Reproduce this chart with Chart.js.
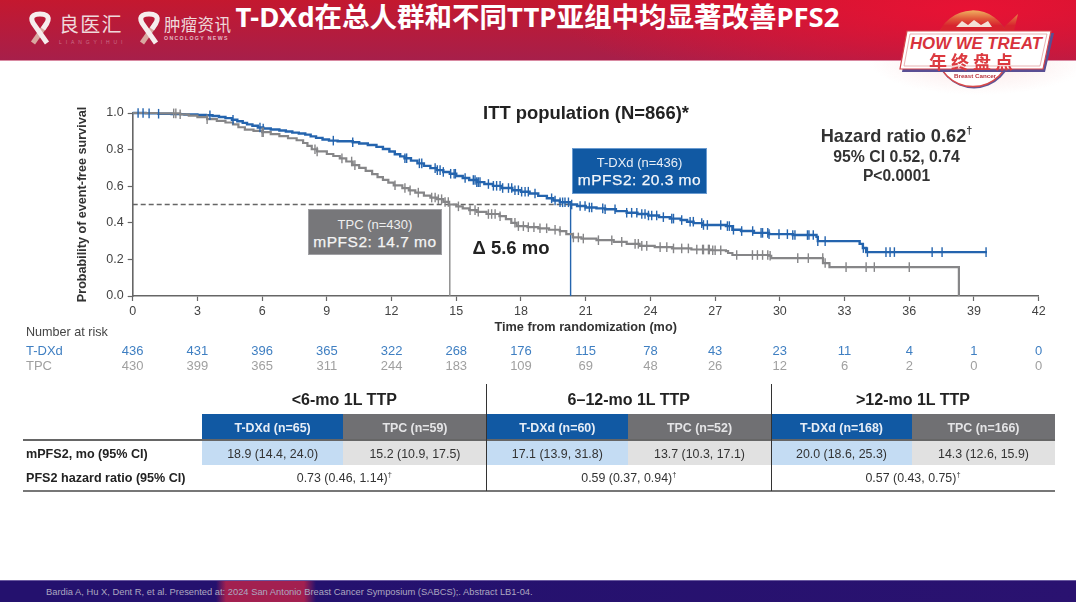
<!DOCTYPE html>
<html><head><meta charset="utf-8">
<script src="https://cdn.jsdelivr.net/npm/chart.js@4"></script>
<style>
html,body{margin:0;padding:0;background:#fff;overflow:hidden}
#page{position:relative;width:1076px;height:605px;font-family:"Liberation Sans",Arial,sans-serif;color:#222;filter:blur(.55px);overflow:hidden}
#page>div,.t{position:absolute;white-space:nowrap}
.c{transform:translate(-50%,-50%);text-align:center}
.l{transform:translateY(-50%)}
canvas{position:absolute;left:0;top:0}
sup{font-size:.6em;line-height:0}
</style></head><body>
<div id="page">
<div style="left:0;top:0;width:1076px;height:60px;background:radial-gradient(ellipse 420px 90px at 90% 15%,rgba(232,18,52,1),rgba(232,18,52,0) 100%),linear-gradient(180deg,#c4182f 0%,#a71f4a 100%);border-bottom:1px solid #d98aa2"></div>
<div style="left:860px;top:61px;width:216px;height:36px;background:radial-gradient(ellipse 110px 34px at 55% 0,#fbe6e6,rgba(255,255,255,0) 100%)"></div>
<svg style="position:absolute;left:0;top:0" width="240" height="60">
<g id="rb" fill="none" stroke-linecap="butt">
<path d="M33 43 L47 23" stroke="#d9a7a0" stroke-width="5"/>
<path d="M47 43 L33 23 C29 15 36 14 40 14 C44 14 51 15 47 23 L43 29" stroke="#f6eded" stroke-width="5"/>
</g>
<use href="#rb" x="109" y="0"/>
</svg>
<div class="l" style="left:59px;top:23px;font:400 20px 'Noto Sans CJK SC';letter-spacing:1.2px;color:#efd8da">良医汇</div>
<div class="l" style="left:59px;top:42px;font:400 5px 'Liberation Sans';letter-spacing:3.9px;color:#c9708a">LIANGYIHUI</div>
<div class="l" style="left:164px;top:24px;font:400 16.5px 'Noto Sans CJK SC';letter-spacing:.3px;color:#efd8da">肿瘤资讯</div>
<div class="l" style="left:164px;top:38px;font:700 5.2px 'Liberation Sans';letter-spacing:1.35px;color:#e5b8c4">ONCOLOGY NEWS</div>
<div id="title" class="c" style="left:537.5px;top:17px;font:700 27.5px 'Noto Sans','Noto Sans CJK SC';line-height:30px;color:#fff">T-DXd在总人群和不同TTP亚组中均显著改善PFS2</div>

<svg style="position:absolute;left:890px;top:0" width="186" height="100">
<defs><linearGradient id="dm" x1="0" y1="0" x2="0" y2="1"><stop offset="0" stop-color="#f0b060"/><stop offset=".3" stop-color="#e05a3a"/><stop offset=".55" stop-color="#d8232f"/></linearGradient></defs>
<circle cx="84" cy="50.5" r="38" fill="#5f5596"/>
<circle cx="83" cy="49.5" r="37" fill="#fff" stroke="#d94a4a" stroke-width="1.5"/>
<path d="M47 38 A37 37 0 0 1 118 36 L114 27 L128 14 L124 31 L124 36 Z" fill="url(#dm)"/>
<path d="M66 27 L72 21 L78 25 L84 20 L91 25 L98 21 L102 27 Z" fill="#f4e2d8"/>
<path d="M17 31 L162 31 L153 70 L10 70 Z" fill="#5a4f94" transform="translate(2 2)"/>
<path d="M17 31 L161 31 L153 69 L10 69 Z" fill="#fff" stroke="#d6454a" stroke-width="1.2"/>
<path d="M20 34 L157 34 L150 66 L14 66 Z" fill="none" stroke="#e3a0a0" stroke-width=".8"/>
</svg>
<div class="c" style="left:976px;top:43.5px;font:italic 700 16.8px 'Liberation Sans';color:#d8323c">HOW WE TREAT</div>
<div class="c" style="left:973px;top:61px;font:700 18px 'Noto Sans CJK SC';line-height:20px;color:#dc3a40;letter-spacing:4px">年终盘点</div>
<div class="c" style="left:975px;top:74.5px;font:700 6.2px 'Liberation Sans';color:#b8323c">Breast Cancer</div>

<canvas id="km" width="1076" height="605" style="width:1076px;height:605px"></canvas>

<div class="c" style="left:586px;top:113px;font:700 18.4px 'Liberation Sans';color:#222">ITT population (N=866)*</div>
<div class="c" style="left:896.5px;top:135.5px;font:700 18.2px 'Liberation Sans';color:#333">Hazard ratio 0.62<sup>†</sup></div>
<div class="c" style="left:896.5px;top:156.5px;font:700 15.8px 'Liberation Sans';color:#333">95% CI 0.52, 0.74</div>
<div class="c" style="left:896.5px;top:175.5px;font:700 15.6px 'Liberation Sans';color:#333">P&lt;0.0001</div>

<div style="left:308px;top:209px;width:134px;height:46px;background:#77777a;box-sizing:border-box;border:1px solid #a0a0a4"></div>
<div class="c" style="left:375px;top:224px;font:400 13px 'Liberation Sans';color:#eee">TPC (n=430)</div>
<div class="c" style="left:375px;top:241.5px;font:400 15.5px 'Liberation Sans';color:#f4f4f4;letter-spacing:.5px;-webkit-text-stroke:.25px #f4f4f4">mPFS2: 14.7 mo</div>
<div style="left:572px;top:148px;width:135px;height:46px;background:#1159a3;box-sizing:border-box;border:1px solid #6a9bd0"></div>
<div class="c" style="left:639.5px;top:162px;font:400 13px 'Liberation Sans';color:#e8eef6">T-DXd (n=436)</div>
<div class="c" style="left:639.5px;top:180px;font:400 15.5px 'Liberation Sans';color:#f4f7fb;letter-spacing:.5px;-webkit-text-stroke:.25px #f4f7fb">mPFS2: 20.3 mo</div>
<div class="c" style="left:511px;top:248px;font:700 18.5px 'Liberation Sans';color:#222">Δ 5.6 mo</div>

<div class="l" style="left:26px;top:331.5px;font:400 12.6px 'Liberation Sans';color:#444">Number at risk</div>
<div class="l" style="left:26px;top:349.5px;font:400 13px 'Liberation Sans';color:#3f7fc2">T-DXd</div>
<div class="l" style="left:26px;top:364.5px;font:400 13px 'Liberation Sans';color:#a0a0a0">TPC</div>
<div id="risk"></div>
<div id="tbl"></div>

<div style="left:0;top:580px;width:1076px;height:22px;background:linear-gradient(90deg,#24116e 0,#24116e 216px,#a32050 226px,#a32050 304px,#24116e 316px,#2a1270 100%);border-top:1px solid #6a5aa0;box-sizing:border-box"></div>
<div class="l" style="left:46px;top:592px;font:400 9.35px 'Liberation Sans';color:#aca7c0">Bardia A, Hu X, Dent R, et al. Presented at: 2024 San Antonio Breast Cancer Symposium (SABCS);. Abstract LB1-04.</div>
</div>
<script>
const xTicks=[0,3,6,9,12,15,18,21,24,27,30,33,36,39,42];
const riskTDXd=[436,431,396,365,322,268,176,115,78,43,23,11,4,1,0];
const riskTPC=[430,399,365,311,244,183,109,69,48,26,12,6,2,0,0];
const medianTDXd=20.3, medianTPC=14.7;

const tdxdTime=[0,.6,1.2,1.8,2.4,3,3.4,3.7,4,4.3,4.6,4.85,5.1,5.3,5.55,5.8,6.05,6.4,6.8,7.1,7.4,7.7,8,8.25,8.5,8.8,9.1,9.5,10.2,10.5,10.9,11.3,11.6,11.9,12.15,12.4,12.6,12.9,13.2,13.5,13.8,14.1,14.4,14.7,15,15.3,15.6,15.95,16.3,16.7,17.1,17.6,18,18.4,18.8,19.2,19.5,19.8,20.3,20.6,21,21.5,21.9,22.4,22.9,23.4,23.9,24.4,24.9,25.4,25.7,26,26.4,27.5,27.8,28.2,28.8,29.5,30.6,31.7,31.76,33.7,33.85,34,39.6];
const tdxdSurv=[1,.998,.996,.994,.992,.99,.988,.984,.978,.972,.963,.955,.946,.938,.93,.921,.915,.91,.904,.899,.893,.888,.882,.872,.864,.855,.849,.846,.84,.833,.825,.815,.803,.79,.775,.763,.753,.74,.725,.711,.699,.688,.678,.668,.656,.645,.634,.622,.612,.602,.59,.578,.57,.56,.547,.534,.522,.512,.5,.492,.484,.479,.474,.464,.455,.448,.44,.431,.423,.415,.406,.398,.388,.382,.362,.355,.345,.338,.333,.323,.30,.285,.262,.24,.24];
const tpcTime=[0,1.2,2.2,2.6,3,3.45,3.9,4.3,4.65,4.9,5.2,5.6,6,6.4,6.8,7.2,7.6,7.9,8.1,8.3,8.55,9,9.3,9.6,9.9,10.2,10.5,10.8,11.1,11.35,11.6,11.85,12.1,12.5,12.8,13.1,13.5,13.8,14.1,14.4,14.67,15,15.3,15.6,15.95,16.4,17,17.3,17.55,17.8,18.3,18.8,19.3,19.8,20.1,20.4,20.8,21.5,22.3,22.9,23.5,24.2,25,25.9,26.8,27.5,27.6,27.8,29.5,29.6,32,32.3,38.3];
const tpcSurv=[1,.998,.993,.986,.977,.966,.957,.948,.938,.922,.909,.902,.895,.885,.874,.862,.851,.836,.82,.802,.79,.776,.765,.752,.735,.715,.7,.684,.666,.65,.635,.62,.605,.59,.577,.565,.549,.538,.529,.514,.5,.49,.479,.469,.46,.448,.436,.42,.4,.382,.376,.37,.362,.355,.338,.32,.314,.305,.296,.285,.274,.267,.26,.254,.25,.245,.235,.224,.22,.207,.18,.158,0];

const tdxdCensor=[0.25,0.48,0.76,1.2,3.58,4.65,5.9,6.05,9.3,10.2,12.62,12.7,13.29,13.4,14.02,14.12,14.25,14.4,14.74,14.9,14.96,15.41,15.79,15.87,15.95,16.02,16.1,16.49,16.72,16.87,17.03,17.15,17.42,17.57,17.72,17.88,18.03,18.19,18.34,18.65,19.42,19.58,19.81,19.93,20.04,20.2,20.35,20.74,20.97,21.17,21.28,21.79,21.9,22.36,22.9,23.13,23.37,23.6,23.75,23.91,24.06,24.29,24.6,24.99,25.07,25.45,25.84,25.99,26.38,26.46,26.64,27.26,27.57,27.66,27.85,28.23,28.74,29.13,29.2,29.44,29.5,29.96,30.35,30.6,30.7,31.28,31.35,31.55,31.76,32.1,33.87,34.06,34.92,35.11,35.31,37.06,37.52,39.56];
const tpcCensor=[1.9,2.0,2.2,3.45,6,6.05,8.45,8.55,9.7,10.15,10.3,12.16,12.62,12.86,13.24,13.86,14.02,14.17,14.32,14.48,14.63,15.1,15.64,15.87,16.02,16.49,16.64,16.8,17.03,17.72,17.88,18.11,18.34,18.6,18.88,19.19,19.58,19.81,20.43,20.66,20.89,21.59,22.21,22.67,23.29,23.44,23.6,23.83,24.45,24.76,25.07,25.45,25.76,26.15,26.42,26.46,26.69,26.73,26.89,27,27.26,28,28.73,28.96,29.2,29.44,29.55,30.83,31.32,31.99,32.1,33.07,34,34.38,36];

const groups=["<6-mo 1L TTP","6–12-mo 1L TTP",">12-mo 1L TTP"];
const armHeads=[["T-DXd (n=65)","TPC (n=59)"],["T-DXd (n=60)","TPC (n=52)"],["T-DXd (n=168)","TPC (n=166)"]];
const mPFS2=[["18.9 (14.4, 24.0)","15.2 (10.9, 17.5)"],["17.1 (13.9, 31.8)","13.7 (10.3, 17.1)"],["20.0 (18.6, 25.3)","14.3 (12.6, 15.9)"]];
const hrs=["0.73 (0.46, 1.14)","0.59 (0.37, 0.94)","0.57 (0.43, 0.75)"];

const BLUE="#2464ae",GRAY="#868688";
const curve=(t,s)=>t.map((x,i)=>({x,y:s[i]}));
const stepAt=(t,s,x)=>{let v=s[0];t.forEach((q,i)=>{if(q<=x)v=s[i]});return v};
const censor=(c,t,s)=>c.map(x=>({x,y:stepAt(t,s,x)}));
const tickDs=(data,color)=>({data,showLine:false,pointStyle:'line',rotation:90,pointRadius:4.8,pointHoverRadius:4.8,pointBorderColor:color,pointBorderWidth:1.4,borderColor:color,clip:false,order:1});
const lineDs=(data,color,w)=>({data,showLine:true,stepped:true,borderColor:color,borderWidth:w,pointRadius:0,clip:false,order:2});
const refDs=(data,color,extra)=>Object.assign({data,showLine:true,borderColor:color,borderWidth:1.4,pointRadius:0,clip:false,order:3},extra);

const chart=new Chart(document.getElementById('km'),{
 type:'scatter',
 data:{datasets:[
  refDs([{x:0,y:.5},{x:medianTDXd,y:.5}],'#666',{borderDash:[5,3],borderWidth:1.5}),
  refDs([{x:medianTPC,y:.5},{x:medianTPC,y:0}],'#8a8a8a'),
  refDs([{x:medianTDXd,y:.5},{x:medianTDXd,y:0}],'#2464ae'),
  lineDs(curve(tpcTime,tpcSurv),GRAY,2.2),
  lineDs(curve(tdxdTime,tdxdSurv),BLUE,2.4),
  tickDs(censor(tpcCensor,tpcTime,tpcSurv),GRAY),
  tickDs(censor(tdxdCensor,tdxdTime,tdxdSurv),BLUE)
 ]},
 options:{
  responsive:false,animation:false,
  layout:{padding:{left:75,right:37.3,top:113,bottom:270}},
  plugins:{legend:{display:false},tooltip:{enabled:false}},
  scales:{
   x:{type:'linear',min:0,max:42,
    afterBuildTicks:s=>{s.ticks=xTicks.map(value=>({value}))},
    afterFit:s=>{s.height=39},
    border:{color:'#666',width:1.6},
    grid:{drawOnChartArea:false,drawTicks:true,tickLength:5,color:'#666',tickWidth:1.2},
    ticks:{padding:3.5,maxRotation:0,autoSkip:false,color:'#444',font:{family:'Liberation Sans',size:12.5}},
    title:{display:true,text:'Time from randomization (mo)',color:'#333',padding:0,font:{family:'Liberation Sans',size:12.7,weight:'bold'}}},
   y:{min:0,max:1,
    afterFit:s=>{s.width=57.7},
    border:{color:'#666',width:1.6},
    grid:{drawOnChartArea:false,drawTicks:true,tickLength:5,color:'#666',tickWidth:1.2},
    ticks:{stepSize:.2,padding:4,color:'#444',font:{family:'Liberation Sans',size:12.5},callback:v=>v.toFixed(1)},
    title:{display:true,text:'Probability of event-free survival',color:'#333',padding:0,font:{family:'Liberation Sans',size:12.6,weight:'bold'}}}
  }
 }
});

const add=(p,css,txt,cls)=>{const d=document.createElement('div');d.className='t '+(cls||'');d.style.cssText=css;if(txt!==undefined)d.innerHTML=txt;p.appendChild(d);return d};
const esc=s=>s.replace(/</g,'&lt;').replace(/>/g,'&gt;');
const rk=document.getElementById('risk');
xTicks.forEach((v,i)=>{
 const x=chart.scales.x.getPixelForValue(v);
 add(rk,`left:${x}px;top:349.5px;font:400 13px 'Liberation Sans';color:#3f7fc2`,riskTDXd[i],'c');
 add(rk,`left:${x}px;top:364.5px;font:400 13px 'Liberation Sans';color:#a0a0a0`,riskTPC[i],'c');
});

const T=document.getElementById('tbl');
const cols=[[202,343.3,486.6],[486.6,628,771],[771,912,1055]];
cols.forEach((c,g)=>{
 add(T,`left:${c[0]}px;top:414px;width:${c[1]-c[0]}px;height:26px;background:#1159a3`);
 add(T,`left:${c[1]}px;top:414px;width:${c[2]-c[1]}px;height:26px;background:#707073`);
 add(T,`left:${c[0]}px;top:440px;width:${c[1]-c[0]}px;height:25px;background:#c4dcf3`);
 add(T,`left:${c[1]}px;top:440px;width:${c[2]-c[1]}px;height:25px;background:#e1e1e1`);
 const m1=(c[0]+c[1])/2,m2=(c[1]+c[2])/2,mid=(c[0]+c[2])/2;
 add(T,`left:${mid}px;top:400px;font:700 16px 'Liberation Sans';color:#222`,esc(groups[g]),'c');
 add(T,`left:${m1}px;top:427.5px;font:700 12.4px 'Liberation Sans';color:#e6edf6`,armHeads[g][0],'c');
 add(T,`left:${m2}px;top:427.5px;font:700 12.4px 'Liberation Sans';color:#e4e4e6`,armHeads[g][1],'c');
 add(T,`left:${m1}px;top:453.5px;font:400 12.4px 'Liberation Sans';color:#333`,mPFS2[g][0],'c');
 add(T,`left:${m2}px;top:453.5px;font:400 12.4px 'Liberation Sans';color:#333`,mPFS2[g][1],'c');
 add(T,`left:${mid}px;top:478px;font:400 12.4px 'Liberation Sans';color:#333`,hrs[g]+'<sup>†</sup>','c');
});
add(T,`left:26px;top:453.5px;font:700 12.6px 'Liberation Sans';color:#222`,'mPFS2, mo (95% CI)','l');
add(T,`left:26px;top:478px;font:700 12.6px 'Liberation Sans';color:#222`,'PFS2 hazard ratio (95% CI)','l');
add(T,`left:23px;top:439px;width:1032px;height:2px;background:#666`);
add(T,`left:23px;top:490px;width:1032px;height:1.5px;background:#777`);
add(T,`left:486px;top:384px;width:1px;height:107px;background:#333`);
add(T,`left:771px;top:384px;width:1px;height:107px;background:#333`);
</script>
</body></html>
